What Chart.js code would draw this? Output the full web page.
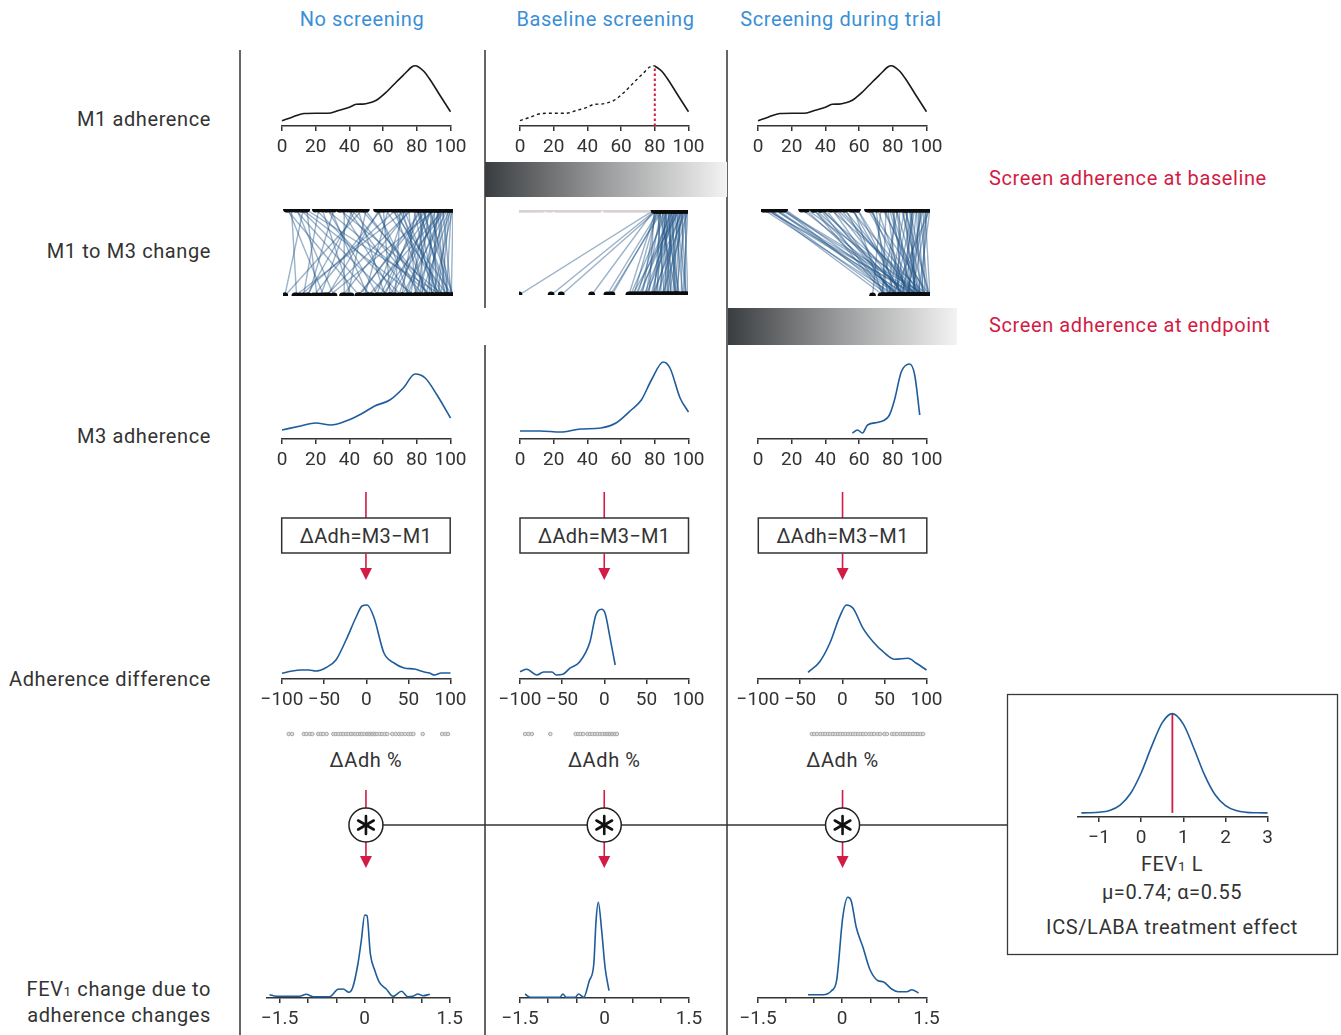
<!DOCTYPE html>
<html>
<head>
<meta charset="utf-8">
<script src="https://cdn.jsdelivr.net/npm/chart.js@4.4.1/dist/chart.umd.min.js"></script>
<style>
  body { margin: 0; background: #fff; }
  #stage { position: relative; width: 1341px; height: 1035px; overflow: hidden;
           font-family: Roboto, "DejaVu Sans", sans-serif; color: #333; }
  #stage canvas { position: absolute; }
  #art { position: absolute; left: 0; top: 0; }
  .t { position: absolute; white-space: nowrap; font-size: 20px; letter-spacing: 0.6px; line-height: 1; }
  .c { transform: translate(-50%, -50%); }
  .r { transform: translate(-100%, -50%); }
  .l { transform: translate(0, -50%); }
  .head { color: #3a8fd6; }
  .red { color: #d21b45; }
  .sub { font-size: 0.68em; }
  .box { letter-spacing: 0.3px; }
  .blur { filter: blur(0.6px); }
</style>
</head>
<body>
<div id="stage"></div>
<script>
// ---- Adherence (%) densities, M1 ----
const m1Density = [[0,5.3],[6,8.8],[13,12.5],[20,12.8],[27,12.7],[34,15.8],[40,18.7],[44,21.7],[48,21.9],
  [52,23.2],[56,25.8],[62,34],[68,44.3],[73,52.5],[77,59],[79,60.3],[80,60],[84,55],[88,46],[94,30],[100,14.3]];
const screenThreshold = 80;

// ---- Adherence (%) densities, M3 ----
const m3NoScreen = [[0,9],[11,13],[20,16],[29,14],[38,18],[47,25],[55,33],[64,39],[72,51],[79,65],[85,61],[92,44],[100,21]];
const m3Baseline = [[0,8],[12,8],[24,7],[36,10],[48,11],[57,16],[66,29],[72,39],[78,59],[85,77],[89,71],[95,41],[100,27]];
const m3Trial = [[56,6],[59,9],[62,6],[65,14],[72,17],[78,24],[81,39],[85,67],[90,75],[93,64],[96,24]];

// ---- Adherence difference (M3 - M1) densities ----
const dNoScreen = [[-100,5.7],[-88,8],[-78,9],[-68,9],[-60,8],[-48,11.3],[-36,19],[-24,39],[-12,62],[-5,73],[1,74],
  [9,62],[21,26],[33,16],[45,11],[57,10],[69,7],[75,6],[81,4],[89,6],[100,6]];
const dBaseline = [[-100,7.3],[-92,9.7],[-80,4],[-72,7],[-62,7],[-57,4],[-49,4.7],[-41,10.7],[-29,17.3],[-17,37],
  [-10,64],[-3,69.7],[1,65.7],[7,40.7],[13,14]];
const dTrial = [[-40.6,6.7],[-26.7,17.3],[-14.8,35.7],[-3,62.3],[5,74],[12.8,70.7],[24.7,50.7],[36.6,37.3],
  [48.5,27.3],[62.4,19.7],[78.1,20.7],[88,15.7],[100,9]];

// ---- Individual adherence differences (rug) ----
const rugNoScreen = [-92,-88,-74,-71,-67,-64,-57,-54,-51,-47,-39,-36,-33,-30,-27,-24,-21,-18,-15,-13,-10,-7,
  -5,-2,1,3,5,7,9,11,13,16,19,22,25,31,35,39,42,46,50,53,56,67,90,94,97];
const rugBaseline = [-94,-90,-86,-64,-34,-31,-28,-25,-20,-17,-14,-11,-8,-5,-2,1,3,5,7,9,11,13,15];
const rugTrial = [-36,-33,-30,-26,-23,-20,-17,-14,-11,-8,-5,-2,1,4,7,10,13,16,19,22,25,28,32,35,38,42,45,
  50,53,59,62,65,69,72,75,78,81,84,87,90,93,96];

// ---- FEV1 change (L) due to adherence changes ----
const fNoScreen = [[-1.68,3.3],[-1.56,1.7],[-1.15,1.7],[-1.03,3.7],[-0.91,1.3],[-0.62,1.3],[-0.47,8.7],[-0.38,9],
  [-0.28,5.7],[-0.21,10.7],[-0.12,34],[-0.06,57.3],[0,83],[0.04,82.3],[0.1,44],[0.18,27.3],[0.26,15.7],[0.38,9],
  [0.5,1.7],[0.65,6.7],[0.76,1.3],[0.85,1.7],[0.94,4],[1.03,2.3],[1.15,3.7]];
const fBaseline = [[-1.41,4],[-1.32,0.7],[-0.79,0.7],[-0.74,4],[-0.68,0.7],[-0.52,0.7],[-0.46,4],[-0.37,0.7],
  [-0.27,17.3],[-0.19,34],[-0.15,77.3],[-0.11,95.7],[-0.05,67.3],[0.01,30.7],[0.08,7.3]];
const fTrial = [[-0.61,3.3],[-0.34,3.3],[-0.19,7.3],[-0.1,17.3],[0.01,80.7],[0.1,100.7],[0.16,97.3],[0.25,70.7],
  [0.37,50.7],[0.49,29],[0.64,17.3],[0.73,16.3],[0.88,9],[1.0,6.3],[1.15,6.3],[1.24,8.3],[1.36,5]];

// ---- ICS/LABA treatment effect (FEV1, L) ----
const fevMu = 0.74;
const fevAlpha = 0.55;
const fevX = [-1.42,-1.25,-1,-0.75,-0.5,-0.25,0,0.25,0.5,0.74,1,1.25,1.5,1.75,2,2.25,2.5,2.75,3];
const fevY = [0,0.001,0.005,0.018,0.057,0.143,0.293,0.487,0.659,0.725,0.648,0.472,0.279,0.134,0.053,0.017,0.004,0.001,0];

// ---- Patient-level M1 -> M3 adherence pairs ----
const pairsNoScreen = [[2,45],[5,8],[8,30],[10,62],[12,1],[14,20],[19,70],[21,12],[25,88],[28,50],[30,15],[33,95],
  [36,36],[38,75],[41,22],[44,60],[46,90],[49,38],[55,80],[57,26],[60,97],[62,48],[65,85],[67,10],[69,66],[71,92],
  [72,55],[74,78],[75,35],[77,88],[78,70],[79,98],[80,60],[81,82],[82,45],[83,93],[84,75],[85,68],[86,100],[87,86],
  [88,52],[89,90],[90,72],[91,95],[92,80],[93,64],[94,99],[95,84],[96,58],[97,91],[98,77],[99,96],[100,88],[64,100],
  [56,74],[40,83],[26,56],[13,94],[47,1],[58,18],[73,7],[76,25],[85,44],[90,27],[95,50],[66,92],[70,84],[80,96],
  [88,63],[92,97],[97,70],[3,24],[7,52],[11,78],[23,40],[34,66],[43,14],[48,86],[59,63],[68,94],[83,57],[86,79],
  [91,87],[94,73],[98,93],[99,81],[100,99],[79,90],[82,100],[87,97]];
const screenedOutM1 = [0,1.5,3,4.5,6,7.5,9,10.5,12,14,17,19,22,23.5,25,26.5,28,29.5,31,32.5,34,35.5,37,38.5,40,
  41.5,43,44.5,46,47.5,51,52.5,54,55.5,57,58.5,60,61.5,63,64.5,66,67.5,69,70.5,72,73.5,75,76.5];
const pairsBaseline = [[80,0],[81,19],[82,25],[80,43],[83,52],[84,55],[85,54],[81,65],[82,68],[86,70],[88,66],
  [90,72],[84,75],[92,78],[94,74],[96,80],[98,82],[100,85],[87,88],[89,90],[91,92],[93,86],[95,94],[97,96],[99,98],
  [85,84],[88,79],[90,88],[92,97],[94,91],[96,99],[83,93],[86,95],[89,83],[91,76],[93,71],[95,67],[97,89],[99,93],
  [100,97],[82,86],[85,90],[87,81],[90,94],[98,100],[80,77],[92,85],[95,88],[81,73],[84,80],[86,87],[88,93],
  [91,69],[93,99],[96,92],[99,79],[83,82],[97,75]];
const pairsTrial = [[1,80],[3,88],[5,76],[7,92],[9,84],[11,95],[13,78],[14,86],[24,90],[26,82],[27,97],[31,74],
  [32,88],[35,93],[38,80],[41,99],[44,85],[47,91],[50,77],[53,96],[57,83],[57,89],[63,94],[66,79],[69,87],[72,98],
  [74,72],[76,90],[78,85],[80,95],[82,81],[84,92],[86,88],[88,99],[90,84],[92,94],[94,90],[96,97],[98,86],[100,93],
  [71,66],[55,72],[35,75],[4,73],[85,100],[87,78],[89,91],[91,82],[93,96],[95,87],[97,100],[99,89],[79,76],[81,71],
  [77,93],[64,100],[45,95],[31,81],[2,94],[8,82],[12,98],[36,86],[42,79],[49,92],[54,84],[65,88],[68,75],[73,95],
  [75,82],[83,97],[85,76],[88,91],[90,79],[92,87],[94,99],[96,83],[98,95],[100,78],[80,88],[86,93]];

// ---- Text ----
const columnTitles = ['No screening', 'Baseline screening', 'Screening during trial'];
const pctTicks = { min: 0, max: 100, step: 20 };
const diffTicks = { min: -100, max: 100, step: 50 };
const fevLabelled = [-1.5, 0, 1.5];

// ---------------------------------------------------------------
const FONT = 'Roboto, "DejaVu Sans", sans-serif';
const INK = '#333';
const RED = '#d21b45';
const BLUE = '#1f5c9c';
const stage = document.getElementById('stage');

const colLeft = [281.7, 520, 758.3];
const colWidth = 168.5;
const colMid = colLeft.map(l => l + colWidth / 2);

const toPts = arr => arr.map(p => ({ x: p[0], y: p[1] }));
const fmt = v => String(Math.round(v * 100) / 100).replace('-', '\u2212');

const rugPlugin = {
  id: 'rug',
  afterDraw(chart, args, opts) {
    if (!opts || !opts.values) return;
    const ctx = chart.ctx, xs = chart.scales.x;
    const y = chart.chartArea.bottom + opts.offset;
    ctx.save();
    ctx.strokeStyle = '#a8a8a8';
    ctx.fillStyle = '#dedede';
    ctx.lineWidth = 1;
    opts.values.forEach(v => {
      ctx.beginPath();
      ctx.arc(xs.getPixelForValue(v), y, 1.8, 0, Math.PI * 2);
      ctx.fill();
      ctx.stroke();
    });
    ctx.restore();
  }
};

function curve(data, color, extra) {
  return Object.assign({
    data: toPts(data), borderColor: color, borderWidth: 1.6, pointRadius: 0,
    cubicInterpolationMode: 'monotone', fill: false, clip: false
  }, extra || {});
}

function densityChart(o) {
  const padX = 36, axisH = o.axisH || 40;
  const cv = document.createElement('canvas');
  cv.width = Math.round(o.right - o.left + 2 * padX);
  cv.height = o.plotH + axisH;
  cv.style.left = (o.left - padX) + 'px';
  cv.style.top = (o.axisY - o.plotH) + 'px';
  stage.appendChild(cv);
  new Chart(cv, {
    type: 'line',
    data: { datasets: o.datasets },
    options: {
      responsive: false, animation: false, devicePixelRatio: 1,
      layout: { padding: { left: padX, right: cv.width - padX - (o.right - o.left), top: 0, bottom: 0 } },
      plugins: { legend: { display: false }, tooltip: { enabled: false }, rug: o.rug || {} },
      scales: {
        x: {
          type: 'linear', min: o.min, max: o.max,
          afterFit: s => { s.height = axisH; },
          border: { color: INK, width: 1.5 },
          grid: { drawOnChartArea: false, tickLength: 5, color: INK, lineWidth: 1.5 },
          ticks: {
            stepSize: o.step, includeBounds: false, autoSkip: false, maxRotation: 0, padding: 5,
            color: INK, font: { family: FONT, size: 19 },
            callback: v => (o.labelled && !o.labelled.some(l => Math.abs(l - v) < 1e-6)) ? '' : fmt(v)
          }
        },
        y: { display: false, min: o.ymin || 0, max: o.ymax }
      }
    },
    plugins: [rugPlugin]
  });
}

function slopeChart(o) {
  const padX = 8, padY = 6;
  const cv = document.createElement('canvas');
  cv.width = Math.round(o.width + 2 * padX);
  cv.height = (o.botY - o.topY) + 2 * padY;
  cv.style.left = (o.left - padX) + 'px';
  cv.style.top = (o.topY - padY) + 'px';
  cv.className = 'blur';
  stage.appendChild(cv);
  // patient lines sit beneath the M1 / M3 dot rows (higher order = drawn first)
  const datasets = o.pairs.map(p => ({
    data: [{ x: p[0], y: 1 }, { x: p[1], y: 0 }], showLine: true, order: 2,
    borderColor: 'rgba(34,84,136,0.45)', borderWidth: 1.4, pointRadius: 0
  }));
  if (o.excluded) {
    datasets.push({ data: o.excluded.map(v => ({ x: v, y: 1 })), pointRadius: 2.8, order: 1,
      backgroundColor: '#d9d0d1', borderWidth: 0 });
  }
  datasets.push({ data: o.pairs.map(p => ({ x: p[0], y: 1 })), pointRadius: 3.4, order: 0, backgroundColor: '#0c0c0c', borderWidth: 0 });
  datasets.push({ data: o.pairs.map(p => ({ x: p[1], y: 0 })), pointRadius: 3.4, order: 0, backgroundColor: '#0c0c0c', borderWidth: 0 });
  new Chart(cv, {
    type: 'scatter',
    data: { datasets },
    options: {
      responsive: false, animation: false, devicePixelRatio: 1,
      layout: { padding: { left: padX, right: padX, top: padY, bottom: padY } },
      plugins: { legend: { display: false }, tooltip: { enabled: false } },
      scales: { x: { display: false, min: 0, max: 100 }, y: { display: false, min: 0, max: 1 } },
      elements: { point: { hoverRadius: 0 } }
    }
  });
}

// ---------------- line art ----------------
const art = [];
art.push('<defs><linearGradient id="g" x1="0" x2="1" y1="0" y2="0">' +
  '<stop offset="0" stop-color="#3a3d40"/><stop offset="0.5" stop-color="#9c9d9e"/>' +
  '<stop offset="1" stop-color="#f3f3f3"/></linearGradient></defs>');
const line = (x1, y1, x2, y2, c, w) =>
  art.push(`<line x1="${x1}" y1="${y1}" x2="${x2}" y2="${y2}" stroke="${c}" stroke-width="${w}"/>`);
line(240, 50, 240, 1035, INK, 1.5);
line(485, 50, 485, 308, INK, 1.5);
line(485, 345, 485, 1035, INK, 1.5);
line(727, 50, 727, 1035, INK, 1.5);
art.push('<rect x="485" y="162" width="242" height="35" fill="url(#g)"/>');
art.push('<rect x="728" y="308" width="229" height="37" fill="url(#g)"/>');

// connector through the combination nodes to the treatment-effect box
line(colMid[0], 825, 1007, 825, INK, 1.5);
art.push('<rect x="1007.5" y="694.5" width="330" height="260" fill="none" stroke="#3a3a3a" stroke-width="1.3"/>');

function arrow(x, y1, y2, head) {
  line(x, y1, x, head ? y2 - 10 : y2, RED, 1.6);
  if (head) art.push(`<polygon points="${x - 6},${y2 - 12} ${x + 6},${y2 - 12} ${x},${y2}" fill="${RED}"/>`);
}
colMid.forEach(cx => {
  arrow(cx, 492, 518, false);
  art.push(`<rect x="${cx - colWidth / 2}" y="518" width="${colWidth}" height="35" fill="#fff" stroke="${INK}" stroke-width="1.5"/>`);
  arrow(cx, 553, 580, true);
  arrow(cx, 790, 808, false);
  arrow(cx, 842, 868, true);
  art.push(`<circle cx="${cx}" cy="825" r="17" fill="#fff" stroke="#222" stroke-width="1.5"/>`);
  [90, 30, 150].forEach(a => {
    const r = a * Math.PI / 180, dx = 9 * Math.cos(r), dy = 9 * Math.sin(r);
    art.push(`<line x1="${cx - dx}" y1="${825 - dy}" x2="${cx + dx}" y2="${825 + dy}" stroke="#111" stroke-width="2.6" stroke-linecap="round"/>`);
  });
});
stage.insertAdjacentHTML('beforeend',
  `<svg id="art" width="1341" height="1035" xmlns="http://www.w3.org/2000/svg">${art.join('')}</svg>`);

// ---------------- text ----------------
function text(html, x, y, cls) {
  const d = document.createElement('div');
  d.className = 't ' + cls;
  d.style.left = x + 'px';
  d.style.top = y + 'px';
  d.innerHTML = html;
  stage.appendChild(d);
}
const headX = [362, 605.5, 841];
columnTitles.forEach((s, i) => text(s, headX[i], 19, 'c head'));
text('M1 adherence', 211, 119, 'r');
text('M1 to M3 change', 211, 251, 'r');
text('M3 adherence', 211, 436, 'r');
text('Adherence difference', 211, 679, 'r');
text('FEV<span class="sub">1</span> change due to', 211, 989, 'r');
text('adherence changes', 211, 1015, 'r');
text('Screen adherence at baseline', 989, 178, 'l red');
text('Screen adherence at endpoint', 989, 325, 'l red');
colMid.forEach(cx => {
  text('\u0394Adh=M3\u2212M1', cx, 536, 'c box');
  text('\u0394Adh %', cx, 760, 'c');
});
text('FEV<span class="sub">1</span> L', 1172, 864, 'c');
text(`\u03bc=${fevMu}; \u03b1=${fevAlpha}`, 1172, 892, 'c');
text('ICS/LABA treatment effect', 1172, 927, 'c');

// ---------------- charts ----------------
const pct = i => ({ left: colLeft[i], right: colLeft[i] + colWidth, min: pctTicks.min, max: pctTicks.max, step: pctTicks.step });

// M1 adherence
densityChart(Object.assign(pct(0), { axisY: 126, plotH: 70, ymax: 70, datasets: [curve(m1Density, '#1a1a1a')] }));
densityChart(Object.assign(pct(1), { axisY: 126, plotH: 70, ymax: 70, datasets: [
  curve(m1Density.filter(p => p[0] <= screenThreshold), '#1a1a1a', { borderDash: [3, 3], borderWidth: 1.4 }),
  curve(m1Density.filter(p => p[0] >= screenThreshold), '#1a1a1a'),
  curve([[screenThreshold, 0], [screenThreshold, m1Density.find(p => p[0] === screenThreshold)[1]]], RED,
        { borderDash: [2.5, 2.5], borderWidth: 2, cubicInterpolationMode: 'default', tension: 0 })
] }));
densityChart(Object.assign(pct(2), { axisY: 126, plotH: 70, ymax: 70, datasets: [curve(m1Density, '#1a1a1a')] }));

// M1 -> M3 change per patient
slopeChart({ left: 283, width: 170, topY: 209, botY: 296, pairs: pairsNoScreen });
slopeChart({ left: 519, width: 169, topY: 210, botY: 295, pairs: pairsBaseline, excluded: screenedOutM1 });
slopeChart({ left: 761, width: 169, topY: 209, botY: 296, pairs: pairsTrial });

// M3 adherence
[m3NoScreen, m3Baseline, m3Trial].forEach((d, i) =>
  densityChart(Object.assign(pct(i), { axisY: 439, plotH: 90, ymax: 90, datasets: [curve(d, BLUE)] })));

// Adherence difference
[[dNoScreen, rugNoScreen], [dBaseline, rugBaseline], [dTrial, rugTrial]].forEach((d, i) =>
  densityChart({ left: colLeft[i], right: colLeft[i] + colWidth, min: diffTicks.min, max: diffTicks.max,
    step: diffTicks.step, axisY: 679, plotH: 90, ymax: 90, axisH: 70,
    rug: { values: d[1], offset: 55 }, datasets: [curve(d[0], BLUE)] }));

// FEV1 change due to adherence changes
densityChart({ left: 267.3, right: 450, min: -1.724, max: 1.5, step: 0.5, labelled: fevLabelled,
  axisY: 998, plotH: 110, ymax: 110, datasets: [curve(fNoScreen, BLUE)] });
densityChart({ left: 520, right: 689, min: -1.5, max: 1.5, step: 0.5, labelled: fevLabelled,
  axisY: 998, plotH: 110, ymax: 110, datasets: [curve(fBaseline, BLUE)] });
densityChart({ left: 758.3, right: 926.7, min: -1.5, max: 1.5, step: 0.5, labelled: fevLabelled,
  axisY: 998, plotH: 110, ymax: 110, datasets: [curve(fTrial, BLUE)] });

// ICS/LABA treatment effect
densityChart({ left: 1077.7, right: 1267.3, min: -1.5, max: 3, step: 1,
  axisY: 817, plotH: 120, ymin: -0.03, ymax: 0.846, datasets: [
    curve(fevX.map((x, i) => [x, fevY[i]]), BLUE),
    curve([[fevMu, 0], [fevMu, Math.max(...fevY)]], RED, { cubicInterpolationMode: 'default', tension: 0, borderWidth: 1.8 })
  ] });
</script>
</body>
</html>
